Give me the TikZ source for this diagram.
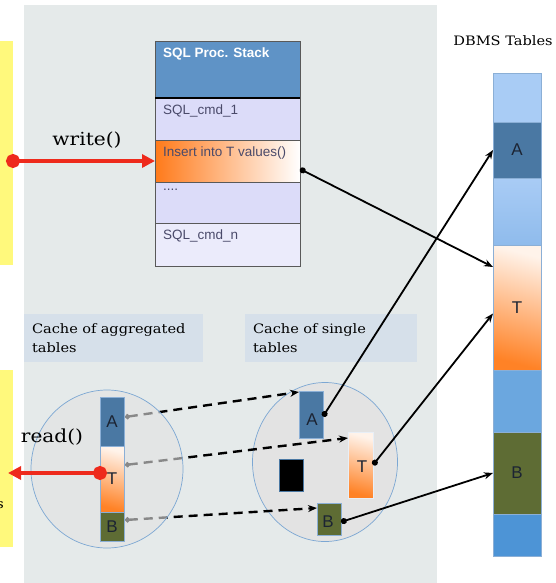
\documentclass[tikz,border=0pt]{standalone}
\usepackage{fontspec}
\setsansfont{Liberation Sans}
\newfontfamily\typefont[FakeStretch=1.12]{DejaVu Serif}
\usetikzlibrary{arrows.meta,shapes.geometric}

\definecolor{panelgray}{HTML}{E5EAEA}
\definecolor{stripyellow}{HTML}{FFF97C}
\definecolor{headblue}{HTML}{5F93C6}
\definecolor{rowlav}{HTML}{DCDCF9}
\definecolor{rowpale}{HTML}{EBEBFB}
\definecolor{rowink}{HTML}{4A4A6A}
\definecolor{insorange}{HTML}{FF7A1A}
\definecolor{capblue}{HTML}{D6E0EA}
\definecolor{dbsky}{HTML}{A9CCF5}
\definecolor{dbdark}{HTML}{4A78A3}
\definecolor{dbmid}{HTML}{8FBBEC}
\definecolor{dblow}{HTML}{6BA7DF}
\definecolor{dbbot}{HTML}{4D94D6}
\definecolor{dbedge}{HTML}{8BAFD6}
\definecolor{tpeach}{HTML}{FFF3EA}
\definecolor{torange}{HTML}{FF8226}
\definecolor{olive}{HTML}{5E6C34}
\definecolor{ringfill}{HTML}{E3E3E3}
\definecolor{ringline}{HTML}{7CA7D3}
\definecolor{callred}{HTML}{EE2A1C}
\definecolor{cellink}{HTML}{1C2433}

\tikzset{
  box/.style={anchor=north west, inner sep=0pt, outer sep=0pt},
  stackrow/.style={box, draw=black!65, fill=rowlav, minimum width=145pt, minimum height=42pt},
  rowtext/.style={anchor=north west, inner xsep=8pt, inner ysep=7pt, text=rowink,
    font=\sffamily\fontsize{13.5}{15}\selectfont},
  headtext/.style={rowtext, text=white, font=\sffamily\bfseries\fontsize{13.5}{15}\selectfont},
  cell/.style={box, draw=dbedge, line width=0.6pt, minimum width=24pt, text=cellink,
    font=\sffamily\fontsize{17}{19}\selectfont},
  dbcell/.style={cell, minimum width=48pt},
  tcell/.style={top color=tpeach, bottom color=torange, shading angle=-15},
  caption/.style={box, fill=capblue, minimum height=48pt, inner xsep=8pt, align=left,
    font=\typefont\fontsize{13}{19}\selectfont},
  ring/.style={ellipse, draw=ringline, line width=0.7pt, fill=ringfill, inner sep=0pt},
  fetch/.style={line width=2.4pt, dash pattern=on 9pt off 6pt,
    {Circle[length=5pt]}-{Stealth[length=9pt,width=7pt]}},
  store/.style={line width=1.8pt, {Circle[length=6pt]}-{Stealth[length=9pt,width=7pt]}},
  call/.style={draw=callred, line width=3.5pt,
    {Circle[length=14pt]}-{Triangle[length=13pt,width=13pt]}},
  tag/.style={font=\typefont\fontsize{18}{20}\selectfont}
}

\begin{document}
\begin{tikzpicture}[x=1pt,y=-1pt]
\useasboundingbox (0,0) rectangle (556,583);

% panel and side strips
\fill[panelgray] (24,5) rectangle (437,583);
\fill[stripyellow] (0,41) rectangle (13,265);
\fill[stripyellow] (0,370) rectangle (13,547);
\node[anchor=east, inner sep=0pt, font=\typefont\fontsize{13}{15}\selectfont] (cut) at (4,505) {s};

% SQL stack
\node[stackrow, fill=headblue, minimum height=57pt,
  label={[headtext]north west:SQL Proc. Stack}] (head) at (155,41) {};
\node[stackrow, label={[rowtext]north west:SQL\_cmd\_1}] (cmd1) at (155,98) {};
\node[stackrow, left color=insorange, right color=white,
  label={[rowtext]north west:Insert into T values()}] (ins) at (155,140) {};
\node[stackrow, minimum height=41pt, label={[rowtext]north west:....}] (more) at (155,182) {};
\node[stackrow, fill=rowpale, minimum height=43pt,
  label={[rowtext]north west:SQL\_cmd\_n}] (cmdn) at (155,223) {};
\draw[line width=2pt] (head.south west) -- (head.south east);

% DBMS tables
\node[font=\typefont\fontsize{13}{15}\selectfont] (dbms) at (503,41) {DBMS Tables};
\node[dbcell, fill=dbsky, minimum height=49pt] (dtop) at (493,73) {};
\node[dbcell, fill=dbdark, minimum height=56pt] (dA) at (493,122) {A};
\node[dbcell, top color=dbsky, bottom color=dbmid, minimum height=67pt] (dmid) at (493,178) {};
\node[dbcell, tcell, minimum height=125pt] (dT) at (493,245) {T};
\node[dbcell, fill=dblow, minimum height=62pt] (dlow) at (493,370) {};
\node[dbcell, fill=olive, minimum height=82pt] (dB) at (493,432) {B};
\node[dbcell, fill=dbbot, minimum height=42pt] (dbot) at (493,514) {};

% captions
\node[caption, minimum width=179pt, text width=163pt] (capagg) at (24,314) {Cache of aggregated\\tables};
\node[caption, minimum width=172pt, text width=156pt] (capsgl) at (245,314) {Cache of single\\tables};

% cache of single tables
\node[ring, minimum width=145pt, minimum height=159pt] (sglring) at (325,462) {};
\node[cell, fill=dbdark, minimum height=47pt] (sA) at (299,391) {};
\node[cell, tcell, draw=white!80!dbedge, minimum width=25pt, minimum height=66pt] (sT) at (348,432) {};
\node[cell, fill=black, draw=dbdark, minimum height=32pt] (sX) at (279,459) {};
\node[cell, fill=olive, minimum height=32pt] (sB) at (317,503) {};
\node[font=\sffamily\fontsize{17}{19}\selectfont, text=cellink] at (312,420) {A};
\node[font=\sffamily\fontsize{17}{19}\selectfont, text=cellink] at (362,467) {T};
\node[font=\sffamily\fontsize{17}{19}\selectfont, text=cellink] at (328,522) {B};

% copies pulled into the aggregated cache
\coordinate (pA) at (125,417);
\coordinate (pT) at (125,465);
\coordinate (pB) at (125,520);
\draw[fetch] (pA) -- ([yshift=-1pt]sA.north west);
\draw[fetch] (pT) -- ([yshift=-6pt]sT.north west);
\draw[fetch] (pB) -- ([yshift=-5pt]sB.north west);

% cache of aggregated tables
\node[ring, fill opacity=0.6, minimum width=152pt, minimum height=158pt] (aggring) at (107,469) {};
\node[cell, fill=dbdark, minimum height=49pt] (aA) at (100,397) {A};
\node[cell, tcell, minimum height=66pt] (aT) at (100,446) {T};
\node[cell, fill=olive, minimum height=29pt] (aB) at (100,512) {B};

% write back to the DBMS
\draw[store] ([yshift=-8pt]ins.east) -- ([yshift=-22pt]dT.north west);
\draw[store] ([yshift=-2pt]sA.east) -- (dA.west);
\draw[store] (sT.east) -- ([yshift=-6pt]dT.west);
\draw[store] ([yshift=-3pt]sB.east) -- (dB.west);

% calls
\coordinate (wsrc) at (6,161);
\draw[call] (wsrc) -- (ins.west);
\node[tag] (write) at (87,140) {write()};
\coordinate (rsrc) at (107,473);
\coordinate (rdst) at (8,473);
\draw[call] (rsrc) -- (rdst);
\node[tag] (read) at (52,437) {read()};
\end{tikzpicture}
\end{document}
